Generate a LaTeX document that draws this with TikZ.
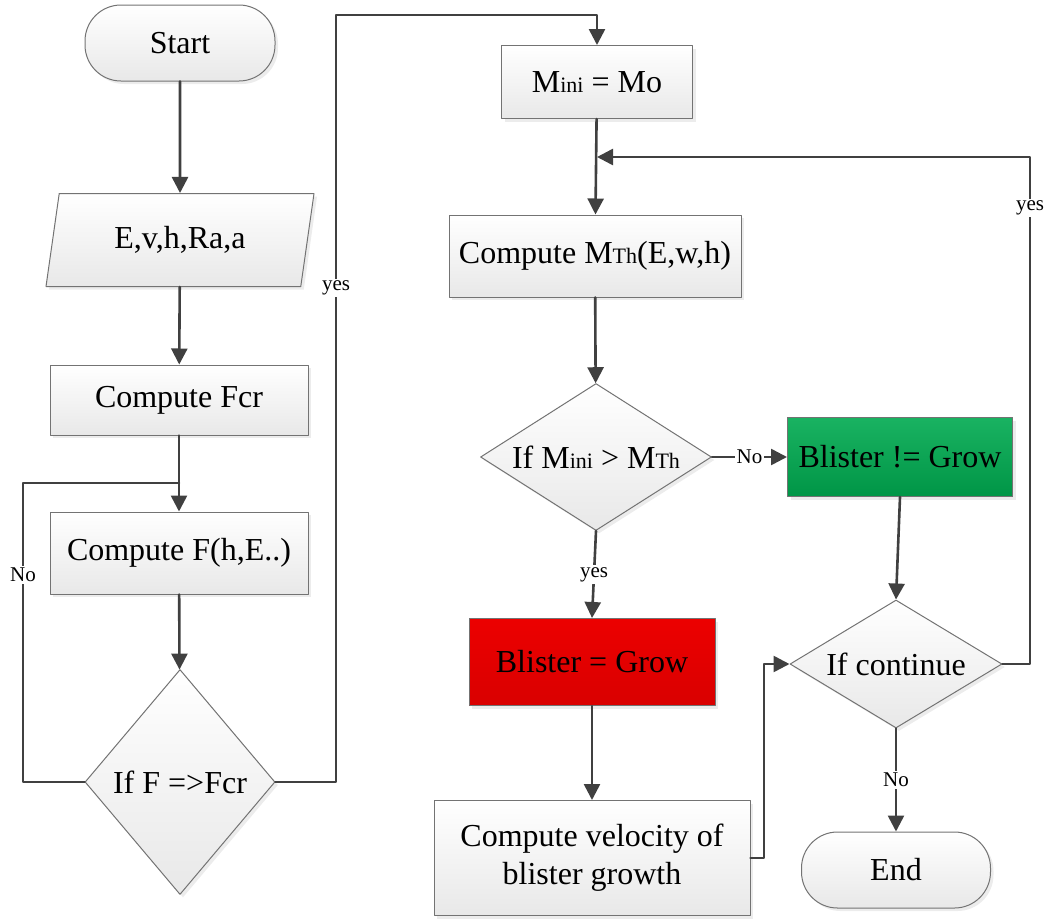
\documentclass[tikz,border=0pt]{standalone}
\usepackage{fontspec}
\setmainfont{Liberation Serif}
\usetikzlibrary{shapes.geometric,shadows,arrows.meta}
\newcommand{\lo}[1]{{\fontsize{11}{11}\selectfont #1}}
\tikzset{
  box/.style={draw=black!55, line width=0.5pt, top color=white, bottom color=black!9,
    drop shadow={shadow xshift=1.5pt, shadow yshift=-1.5pt, fill=black!15},
    inner sep=0pt, font=\fontsize{16}{19}\selectfont},
  proc/.style={box, rectangle},
  term/.style={box, rectangle, rounded corners=18pt},
  io/.style={box, trapezium, trapezium left angle=64, trapezium right angle=116, trapezium stretches body},
  dec/.style={box, diamond},
  line/.style={draw=black!75, line width=1.3pt},
  arr/.style={line, -{Triangle[length=8pt,width=8pt]}},
  lbl/.style={fill=white, inner sep=1pt, font=\fontsize{10.5}{12}\selectfont}
}
\definecolor{growgreen}{RGB}{0,170,80}
\definecolor{growred}{RGB}{236,0,0}
\begin{document}
\begin{tikzpicture}[x=0.5pt,y=-0.5pt, line cap=round, line join=round]
  \useasboundingbox (0,0) rectangle (1050,922);
  % left column
  \node[term, minimum width=95pt, minimum height=38pt] (start) at (180,43) {Start};
  \node[io, minimum width=134pt, minimum height=46.5pt] (input) at (180,240) {E,v,h,Ra,a};
  \node[proc, minimum width=129pt, minimum height=35pt] (fcr) at (179,400) {Compute Fcr};
  \node[proc, minimum width=129pt, minimum height=41pt] (force) at (179,553) {Compute F(h,E..)};
  \node[dec, aspect=0.85, minimum width=95pt, minimum height=112.5pt] (chkF) at (180,782) {If F =>Fcr};
  % middle column
  \node[proc, minimum width=95.5pt, minimum height=36.5pt] (mini) at (597,82) {M\lo{ini} = Mo};
  \node[proc, minimum width=146pt, minimum height=41pt] (mth) at (595,256) {Compute M\lo{Th}(E,w,h)};
  \node[dec, aspect=1.57, minimum width=115.5pt, minimum height=73.5pt] (chkM) at (596,457) {If M\lo{ini} > M\lo{Th}};
  \node[proc, top color=growred, bottom color=growred!92!black, minimum width=123pt, minimum height=43.5pt] (grow) at (592,662) {Blister = Grow};
  \node[proc, align=center, minimum width=158pt, minimum height=57.5pt] (velo) at (592,858) {Compute velocity of\\blister growth};
  % right column
  \node[proc, top color=growgreen!90!white, bottom color=growgreen!88!black, minimum width=112.5pt, minimum height=39.5pt] (nogrow) at (900,457) {Blister != Grow};
  \node[dec, aspect=1.65, minimum width=106pt, minimum height=64pt] (cont) at (896,664) {If continue};
  \node[term, minimum width=94.5pt, minimum height=38pt] (stop) at (896,870) {End};
  % bends
  \coordinate (jn) at (179,483);
  \coordinate (loopL) at (23,483);
  \coordinate (yesT) at (336,15);
  \coordinate (rtop) at (1030,157);
  \coordinate (mrg) at (597,157);
  \coordinate (vx) at (764,664);
  % connectors
  \draw[arr] (start) -- (input);
  \draw[arr] (input) -- (fcr);
  \draw[arr] (fcr) -- (force);
  \draw[arr] (force) -- (chkF);
  \draw[line] (chkF.west) -| (loopL) -- (jn);
  \node[lbl] (lblNo1) at (23,575) {No};
  \draw[arr] (chkF.east) -| (yesT) -| (mini.north);
  \node[lbl] (lblYes1) at (336,288) {yes};
  \draw[arr] (mini) -- (mth);
  \draw[arr] (mth) -- (chkM);
  \draw[arr] (chkM.east) -- node[lbl] {No} (nogrow.west);
  \draw[arr] (chkM.south) -- node[lbl] {yes} (grow.north);
  \draw[arr] (grow) -- (velo);
  \draw[arr] (velo.east) -| (vx) -- (cont.west);
  \draw[arr] (nogrow.south) -- (cont.north);
  \draw[arr] (cont.east) -| (rtop) -- (mrg);
  \node[lbl] (lblYes2) at (1030,208) {yes};
  \draw[arr] (cont.south) -- node[lbl] {No} (stop.north);
\end{tikzpicture}
\end{document}
